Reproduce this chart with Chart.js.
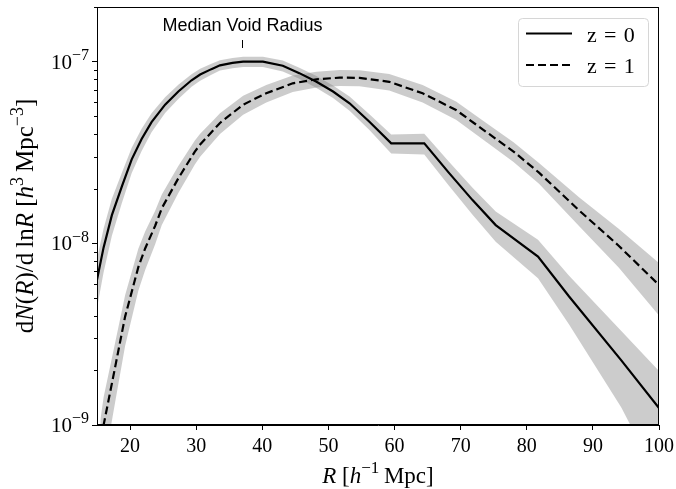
<!DOCTYPE html>
<html>
<head>
<meta charset="utf-8">
<script src="https://cdn.jsdelivr.net/npm/chart.js@4.4.1/dist/chart.umd.min.js"></script>
<style>
  html, body { margin: 0; padding: 0; background: #fff; }
  #wrap { width: 676px; height: 489px; }
</style>
</head>
<body>
<div id="wrap"><canvas id="chart"></canvas></div>
<script>
// z = 0 void size function
const rZ0 = [15, 16, 17.25, 18.75, 20.25, 21.75, 23.25, 25.3, 27.3, 29.3, 30.6, 32.3, 33.6, 35.5, 37.1, 40.1,
  43.1, 45.6, 48.2, 50.7, 53.2, 56.2, 59.5, 64.5, 68.2, 71.8, 75.3, 81.7, 86.4, 94.3, 100];
const nZ0 = [6.3e-9, 9.5e-9, 1.43e-8, 2.05e-8, 2.9e-8, 3.75e-8, 4.65e-8, 5.8e-8, 6.85e-8, 7.9e-8, 8.5e-8, 9.1e-8,
  9.55e-8, 9.85e-8, 1.0e-7, 1.0e-7, 9.5e-8, 8.65e-8, 7.75e-8, 6.85e-8, 5.9e-8, 4.67e-8, 3.55e-8, 3.55e-8,
  2.45e-8, 1.73e-8, 1.26e-8, 8.45e-9, 5.1e-9, 2.27e-9, 1.24e-9];
const errZ0 = [0.3, 0.27, 0.23, 0.19, 0.16, 0.14, 0.12, 0.1, 0.09, 0.08, 0.075, 0.07, 0.065, 0.065, 0.065, 0.065,
  0.07, 0.07, 0.075, 0.08, 0.09, 0.1, 0.12, 0.13, 0.15, 0.17, 0.19, 0.24, 0.3, 0.45, 0.6];

// z = 1 void size function
const rZ1 = [15.5, 16, 17.75, 19.25, 21.25, 22.3, 23.8, 24.8, 27.3, 29.8, 30.6, 32.6, 33.6, 37.1, 40.6, 44.6,
  48.2, 51.7, 54.7, 59.2, 64.25, 69.3, 74.3, 78, 81.85, 87.9, 93.9, 100];
const nZ1 = [7.3e-10, 1.0e-9, 2.09e-9, 3.95e-9, 7.4e-9, 9.4e-9, 1.25e-8, 1.56e-8, 2.28e-8, 3.2e-8, 3.5e-8, 4.2e-8,
  4.6e-8, 5.8e-8, 6.7e-8, 7.6e-8, 8.0e-8, 8.17e-8, 8.15e-8, 7.75e-8, 6.7e-8, 5.42e-8, 4.0e-8, 3.2e-8, 2.45e-8,
  1.52e-8, 9.7e-9, 5.9e-9];
const errZ1 = [0.45, 0.42, 0.36, 0.31, 0.26, 0.24, 0.21, 0.19, 0.17, 0.15, 0.145, 0.135, 0.13, 0.12, 0.11, 0.105,
  0.1, 0.1, 0.1, 0.105, 0.11, 0.115, 0.12, 0.125, 0.13, 0.18, 0.24, 0.32];

const xTicks = [20, 30, 40, 50, 60, 70, 80, 90, 100];
const yTicks = [1e-9, 1e-8, 1e-7];
const seriesLabels = ['z\u2004=\u20040', 'z\u2004=\u20041'];
const medianRadius = 37;
const medianLabel = 'Median Void Radius';

const SERIF = '"Liberation Serif", serif';
const BAND = 'rgba(128, 128, 128, 0.4)';
const DASH = [8, 4];

const points = (xs, ys, f) => xs.map((x, i) => ({ x, y: ys[i] * f(i) }));

function fontFor(style, size, supRatio) {
  if (style === 'i') return `italic ${size}px ${SERIF}`;
  if (style === 's') return `${Math.round(size * supRatio)}px ${SERIF}`;
  return `${size}px ${SERIF}`;
}

// mixed roman / italic / superscript text, anchored at (cx, cy)
function drawRich(ctx, parts, cx, cy, size, angle, align, supRatio = 0.72) {
  ctx.save();
  ctx.translate(cx, cy);
  ctx.rotate(angle);
  let total = 0;
  parts.forEach(([t, s]) => { ctx.font = fontFor(s, size, supRatio); total += ctx.measureText(t).width; });
  let x = align === 'right' ? -total : -total / 2;
  ctx.fillStyle = '#000';
  ctx.textBaseline = 'alphabetic';
  ctx.textAlign = 'left';
  parts.forEach(([t, s]) => {
    ctx.font = fontFor(s, size, supRatio);
    ctx.fillText(t, x, s === 's' ? -size * 0.42 : 0);
    x += ctx.measureText(t).width;
  });
  ctx.restore();
}

const decorations = {
  id: 'decorations',
  afterDraw(chart) {
    const { ctx, chartArea: a, scales: { x, y } } = chart;
    ctx.save();

    // frame (top and right spines)
    ctx.strokeStyle = '#000';
    ctx.lineWidth = 1;
    ctx.strokeRect(a.left + 0.5, a.top + 0.5, a.right - a.left - 1, a.bottom - a.top - 1);

    // minor log ticks
    ctx.beginPath();
    [-9, -8, -7].forEach((d) => {
      for (let m = 2; m <= 9; m++) {
        const v = m * Math.pow(10, d);
        if (v > y.max) continue;
        const py = Math.round(y.getPixelForValue(v)) + 0.5;
        ctx.moveTo(a.left - 3, py);
        ctx.lineTo(a.left, py);
      }
    });
    ctx.stroke();

    // y tick labels as 10^n
    yTicks.forEach((v) => {
      const e = String(Math.round(Math.log10(v))).replace('-', '\u2212');
      drawRich(ctx, [['10', 'r'], [e, 's']], a.left - 8, y.getPixelForValue(v) + 7, 21, 0, 'right', 0.78);
    });

    // median radius marker
    const mx = Math.round(x.getPixelForValue(medianRadius)) + 0.5;
    ctx.beginPath();
    ctx.moveTo(mx, a.top + 33);
    ctx.lineTo(mx, a.top + 41);
    ctx.stroke();
    ctx.font = '18px "Liberation Sans", Arial, sans-serif';
    ctx.fillStyle = '#000';
    ctx.textAlign = 'center';
    ctx.textBaseline = 'alphabetic';
    ctx.fillText(medianLabel, mx, a.top + 24);

    // legend
    const bx = a.right - 141, by = a.top + 11, bw = 130, bh = 68;
    ctx.beginPath();
    if (ctx.roundRect) ctx.roundRect(bx + 0.5, by + 0.5, bw, bh, 4);
    else ctx.rect(bx + 0.5, by + 0.5, bw, bh);
    ctx.fillStyle = 'rgba(255,255,255,0.8)';
    ctx.fill();
    ctx.strokeStyle = '#d6d6d6';
    ctx.stroke();
    seriesLabels.forEach((label, i) => {
      const ly = by + 15.5 + i * 31.5;
      ctx.beginPath();
      ctx.setLineDash(i === 0 ? [] : DASH);
      ctx.strokeStyle = '#000';
      ctx.lineWidth = 2.2;
      ctx.moveTo(bx + 8, ly);
      ctx.lineTo(bx + 54, ly);
      ctx.stroke();
      ctx.setLineDash([]);
      ctx.font = `22px ${SERIF}`;
      ctx.fillStyle = '#000';
      ctx.textAlign = 'left';
      ctx.fillText(label, bx + 69, ly + 8);
    });

    // axis titles
    drawRich(ctx, [['R', 'i'], [' [', 'r'], ['h', 'i'], ['\u22121', 's'], ['\u2009Mpc]', 'r']],
      (a.left + a.right) / 2, 483, 23, 0);
    drawRich(ctx, [['d', 'r'], ['N', 'i'], ['(', 'r'], ['R', 'i'], [')/d\u2009ln', 'r'], ['R', 'i'],
      [' [', 'r'], ['h', 'i'], ['3', 's'], ['\u2009Mpc', 'r'], ['\u22123', 's'], [']', 'r']],
      33, (a.top + a.bottom) / 2, 25, -Math.PI / 2);

    ctx.restore();
  }
};

const band = (xs, ys, err, sign, fill) => ({
  data: points(xs, ys, (i) => 1 + sign * err[i]),
  borderColor: 'transparent',
  borderWidth: 0,
  backgroundColor: BAND,
  fill,
  order: 1
});

const ctx = document.getElementById('chart').getContext('2d');
new Chart(ctx, {
  type: 'line',
  data: {
    datasets: [
      band(rZ0, nZ0, errZ0, 1, false),
      band(rZ0, nZ0, errZ0, -1, '-1'),
      band(rZ1, nZ1, errZ1, 1, false),
      band(rZ1, nZ1, errZ1, -1, '-1'),
      { label: seriesLabels[0], data: points(rZ0, nZ0, () => 1), borderColor: '#000', borderWidth: 2.2,
        fill: false, order: 0 },
      { label: seriesLabels[1], data: points(rZ1, nZ1, () => 1), borderColor: '#000', borderWidth: 2.2,
        fill: false, borderDash: DASH, order: 0 }
    ]
  },
  options: {
    responsive: true,
    maintainAspectRatio: false,
    animation: false,
    layout: { padding: { top: 7, right: 17, left: 0, bottom: 0 } },
    elements: { point: { radius: 0 }, line: { tension: 0 } },
    scales: {
      x: {
        type: 'linear',
        min: 15,
        max: 100,
        afterBuildTicks: (scale) => { scale.ticks = xTicks.map((v) => ({ value: v })); },
        afterFit: (scale) => { scale.height = 64; scale.paddingLeft = 0; scale.paddingRight = 0; },
        grid: { drawOnChartArea: false, tickLength: 5, color: '#000' },
        border: { color: '#000' },
        ticks: { color: '#000', padding: 5, maxRotation: 0, font: { family: SERIF, size: 20 },
          callback: (v) => String(v) }
      },
      y: {
        type: 'logarithmic',
        min: 1e-9,
        max: 2e-7,
        afterBuildTicks: (scale) => { scale.ticks = yTicks.map((v) => ({ value: v })); },
        afterFit: (scale) => { scale.width = 97; scale.paddingTop = 0; scale.paddingBottom = 0; },
        grid: { drawOnChartArea: false, tickLength: 5, color: '#000' },
        border: { color: '#000' },
        ticks: { display: false }
      }
    },
    plugins: {
      legend: { display: false },
      title: { display: false },
      tooltip: { enabled: false }
    }
  },
  plugins: [decorations]
});
</script>
</body>
</html>
